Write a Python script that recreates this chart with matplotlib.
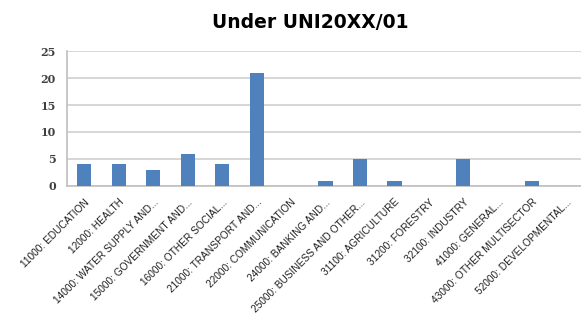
import matplotlib
matplotlib.use("Agg")
import matplotlib.pyplot as plt

# Categorias y valores
sectores = [
    "11000: EDUCATION",
    "12000: HEALTH",
    "14000: WATER SUPPLY AND...",
    "15000: GOVERNMENT AND...",
    "16000: OTHER SOCIAL...",
    "21000: TRANSPORT AND...",
    "22000: COMMUNICATION",
    "24000: BANKING AND...",
    "25000: BUSINESS AND OTHER...",
    "31100: AGRICULTURE",
    "31200: FORESTRY",
    "32100: INDUSTRY",
    "41000: GENERAL...",
    "43000: OTHER MULTISECTOR",
    "52000: DEVELOPMENTAL...",
]
valores = [4, 4, 3, 6, 4, 21, 0, 1, 5, 1, 0, 5, 0, 1, 0]
y_ticks = [0, 5, 10, 15, 20, 25]

fig = plt.figure(figsize=(5.81, 3.16), dpi=100)
ax = fig.add_axes([0.1153, 0.4114, 0.89, 0.4272])

x = list(range(len(sectores)))
ax.bar(x, valores, width=0.41, color="#4F81BD", zorder=3)

ax.set_xlim(-0.5, len(sectores) - 0.5)
ax.set_ylim(0, 25)
ax.set_yticks(y_ticks)
ax.set_yticklabels([str(v) for v in y_ticks], fontsize=8, fontweight="bold",
                   color="#404040", family="DejaVu Serif")
ax.yaxis.grid(True, color="#D6D6D6", linewidth=1.4, zorder=0)
ax.tick_params(axis="both", length=0, pad=8)

ax.set_xticks(x)
ax.set_xticklabels(sectores, rotation=45, ha="right", rotation_mode="anchor",
                   fontsize=7.3, color="#202020", family="Liberation Sans")
ax.tick_params(axis="x", pad=8)

for lado in ["top", "right"]:
    ax.spines[lado].set_visible(False)
ax.spines["left"].set_color("#BFBFBF")
ax.spines["bottom"].set_color("#BFBFBF")
ax.spines["left"].set_linewidth(1.2)
ax.spines["bottom"].set_linewidth(1.2)

fig.text(0.534, 0.93, "Under UNI20XX/01", ha="center", va="center",
         fontsize=13.5, fontweight="bold", color="#000000")

fig.savefig("out.png", dpi=100)
